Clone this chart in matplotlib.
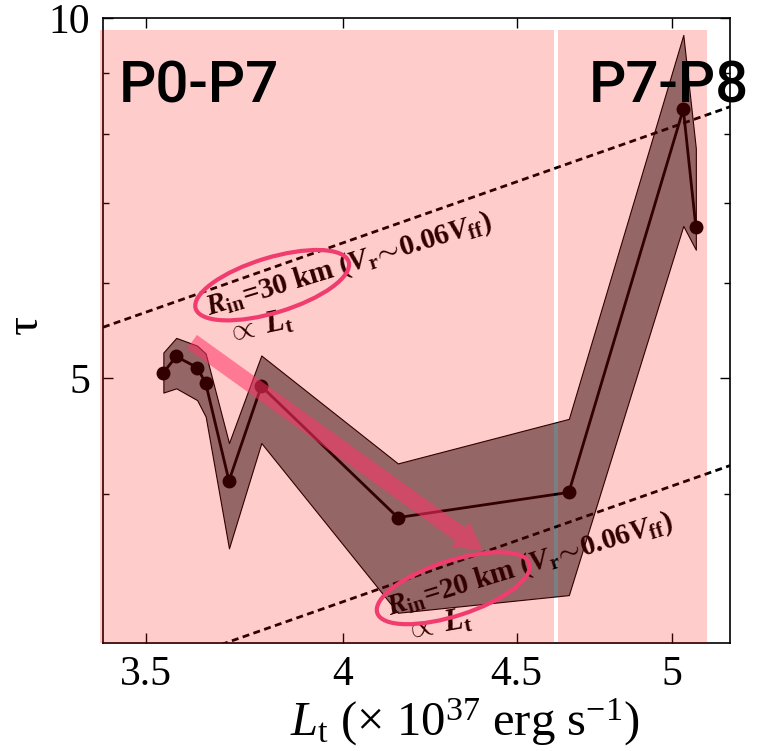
#!/usr/bin/env python3
"""Optical depth vs luminosity with inner-radius scalings."""
import matplotlib
matplotlib.use("Agg")
import matplotlib.pyplot as plt
from matplotlib.patches import Ellipse, FancyArrowPatch
from matplotlib.ticker import FixedLocator, NullFormatter, NullLocator
from matplotlib.transforms import ScaledTranslation

plt.rcParams["font.family"] = ["Liberation Serif", "DejaVu Serif"]
plt.rcParams["mathtext.fontset"] = "custom"
plt.rcParams["mathtext.rm"] = "Liberation Serif"
plt.rcParams["mathtext.it"] = "Liberation Serif:italic"
plt.rcParams["mathtext.bf"] = "Liberation Serif:bold"
plt.rcParams["mathtext.bfit"] = "Liberation Serif:italic:bold"

# luminosity (1e37 erg/s) and optical depth with its envelope
lum = [3.542, 3.573, 3.624, 3.645, 3.703, 3.785, 4.152, 4.662, 5.038, 5.081]
tau = [5.05, 5.21, 5.10, 4.95, 4.10, 4.92, 3.82, 4.01, 8.39, 6.69]
tau_hi = [5.25, 5.40, 5.32, 5.24, 4.41, 5.22, 4.24, 4.62, 9.68, 7.78]
tau_lo = [4.86, 4.90, 4.79, 4.64, 3.60, 4.41, 3.18, 3.29, 6.70, 6.40]

# tau proportional to L_t for the two inner radii
line_x = [3.4, 5.2]
norm_30km = 1.621
norm_20km = 0.812

# period shading (P0-P7, P7-P8)
periods = [(3.393, 4.616), (4.628, 5.120)]
period_top = 9.77

xticks = [3.5, 4, 4.5, 5]
xticklabels = ["3.5", "4", "4.5", "5"]
yticks = [5, 10]
yticklabels = ["5", "10"]
yminor = [4, 6, 7, 8, 9]

fig = plt.figure(figsize=(7.59, 7.51), dpi=100)
ax = fig.add_axes([0.1357, 0.1438, 0.8261, 0.8322])
ax.set_xscale("log")
ax.set_yscale("log")
ax.set_xlim(3.4, 5.2)
ax.set_ylim(3, 10)

ax.fill_between(lum, tau_lo, tau_hi, facecolor="#7a8080", edgecolor="black",
                linewidth=0.8, zorder=2)
ax.plot(line_x, [norm_30km * v for v in line_x], color="black", lw=2,
        dashes=(2.5, 1.6), zorder=3)
ax.plot(line_x, [norm_20km * v for v in line_x], color="black", lw=2,
        dashes=(2.5, 1.6), zorder=3)
ax.plot(lum, tau, color="black", lw=2, marker="o", ms=9, zorder=4)

for lo, hi in periods:
    ax.fill_between([lo, hi], 3, period_top, facecolor="red", alpha=0.2,
                    linewidth=0, zorder=6, clip_on=False)

lab30 = (r"$\mathbfit{R}_\mathbf{in}\!\mathbf{=}\!\mathbf{30\ km\ (}\mathbfit{V}_\mathbf{r}"
         r"\!\mathbf{\sim}\!\mathbf{0.06}\mathbfit{V}_\mathbf{ff}\mathbf{)}$")
lab20 = lab30.replace("30", "20")
prop = r"$\propto\ \mathbfit{L}_\mathbf{t}$"
ax.text(3.651, 5.642, lab30, fontsize=21, rotation=17, rotation_mode="anchor",
        ha="left", va="baseline", zorder=5)
ax.text(4.128, 3.166, lab20, fontsize=21, rotation=17, rotation_mode="anchor",
        ha="left", va="baseline", zorder=5)
ax.text(3.701, 5.356, prop, fontsize=22, rotation=12, rotation_mode="anchor",
        ha="left", va="baseline", zorder=5)
ax.text(4.178, 3.028, prop, fontsize=22, rotation=10, rotation_mode="anchor",
        ha="left", va="baseline", zorder=5, clip_on=False)

for cx, cy, ang in [(3.813, 5.977, 17), (4.311, 3.334, 18)]:
    tr = fig.dpi_scale_trans + ScaledTranslation(cx, cy, ax.transData)
    ax.add_patch(Ellipse((0, 0), 1.6, 0.55, angle=ang, transform=tr,
                         fill=False, edgecolor="#f03c6e", lw=3, zorder=7))

ax.add_patch(FancyArrowPatch((3.606, 5.377), (4.405, 3.574),
                             arrowstyle="simple,head_width=1.1,head_length=1.0,tail_width=0.6",
                             mutation_scale=20, color="#ff3366", alpha=0.55,
                             lw=0, zorder=7))

ax.text(0.025, 0.865, "P0-P7", transform=ax.transAxes, fontsize=42,
        family="Roboto", fontweight="medium", ha="left", va="baseline", zorder=8)
ax.text(1.03, 0.865, "P7-P8", transform=ax.transAxes, fontsize=42,
        family="Roboto", fontweight="medium", ha="right", va="baseline",
        zorder=8, clip_on=False)

ax.xaxis.set_major_locator(FixedLocator(xticks))
ax.set_xticklabels(xticklabels)
ax.xaxis.set_minor_locator(NullLocator())
ax.yaxis.set_major_locator(FixedLocator(yticks))
ax.set_yticklabels(yticklabels)
ax.yaxis.set_minor_locator(FixedLocator(yminor))
ax.yaxis.set_minor_formatter(NullFormatter())
ax.tick_params(which="both", direction="in", top=True, right=True,
               labelsize=30, width=1)
ax.tick_params(which="major", length=7, pad=9)
ax.tick_params(which="minor", length=4)
for s in ax.spines.values():
    s.set_linewidth(1.2)

ax.set_xlabel(r"$\mathit{L}_{\rm t}$ ($\times$ 10$^{37}$ erg s$^{-1}$)", fontsize=35)
ax.set_ylabel("τ", fontsize=34)
ax.xaxis.set_label_coords(0.577, -0.085)
ax.yaxis.set_label_coords(-0.09, 0.51)

fig.savefig("out.png", dpi=100)
